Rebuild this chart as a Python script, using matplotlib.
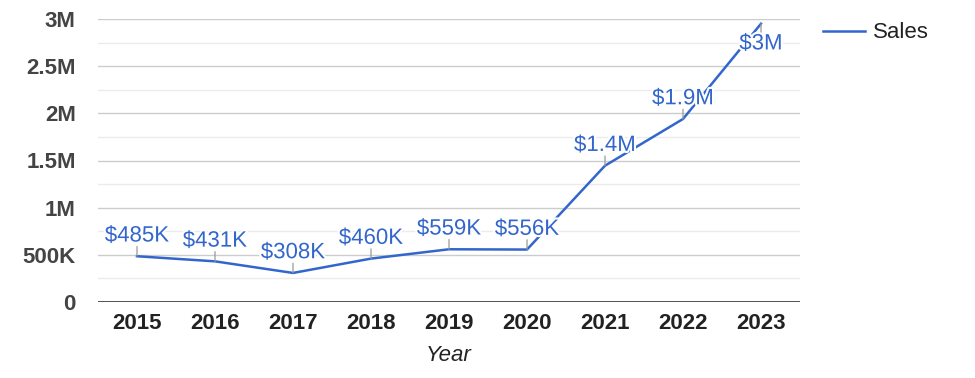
import matplotlib.pyplot as plt
import matplotlib.patheffects as pe

plt.rcParams['font.family'] = ['Liberation Sans', 'DejaVu Sans']

years = ['2015', '2016', '2017', '2018', '2019', '2020', '2021', '2022', '2023']
sales = [485000, 431000, 308000, 460000, 559000, 556000, 1445000, 1940000, 2950000]
labels = ['$485K', '$431K', '$308K', '$460K', '$559K', '$556K', '$1.4M', '$1.9M', '$3M']
y_ticks = [0, 500000, 1000000, 1500000, 2000000, 2500000, 3000000]
y_tick_labels = ['0', '500K', '1M', '1.5M', '2M', '2.5M', '3M']

blue = '#3366cc'

fig = plt.figure(figsize=(9.75, 3.78), dpi=100)
ax = fig.add_axes([98 / 975, 1 - 302 / 378, 702 / 975, 283 / 378])

x = list(range(len(years)))
ax.plot(x, sales, color=blue, lw=1.8, label='Sales', zorder=3)

# minor gridlines every 250K, major every 500K
for v in range(250000, 3000001, 500000):
    ax.axhline(v, color='#ebebeb', lw=1, zorder=0)
for v in y_ticks[1:]:
    ax.axhline(v, color='#cccccc', lw=1, zorder=1)
ax.axhline(0, color='#333333', lw=1.2, zorder=2)

halo = [pe.withStroke(linewidth=3, foreground='white')]
for i, (v, lab) in enumerate(zip(sales, labels)):
    d = -1 if v > 2800000 else 1
    ax.annotate('', xy=(i, v), xytext=(0, 7 * d), textcoords='offset points',
                arrowprops=dict(arrowstyle='-', color='#999999', lw=0.9,
                                shrinkA=0, shrinkB=0), zorder=4)
    ax.annotate(lab, xy=(i, v), xytext=(0, 7 * d), textcoords='offset points',
                ha='center', va='bottom' if d > 0 else 'top', color=blue,
                fontsize=16, path_effects=halo, zorder=5)

ax.set_xlim(-0.5, len(years) - 0.5)
ax.set_ylim(0, 3000000)
ax.set_xticks(x)
ax.set_xticklabels(years, fontsize=16, fontweight='bold', color='#222222')
ax.set_yticks(y_ticks)
ax.set_yticklabels(y_tick_labels, fontsize=16, fontweight='bold', color='#444444')
ax.tick_params(length=0)
ax.tick_params(axis='x', pad=8)
ax.tick_params(axis='y', pad=16)
for s in ax.spines.values():
    s.set_visible(False)

ax.set_xlabel('Year', fontsize=16, style='italic', color='#222222', labelpad=8)

ax.legend(loc='upper left', bbox_to_anchor=(1.033, 0.988), frameon=False,
          fontsize=16, handlelength=1.9, handletextpad=0.36,
          borderpad=0, borderaxespad=0, labelcolor='#222222')

fig.savefig('out.png', dpi=100)
